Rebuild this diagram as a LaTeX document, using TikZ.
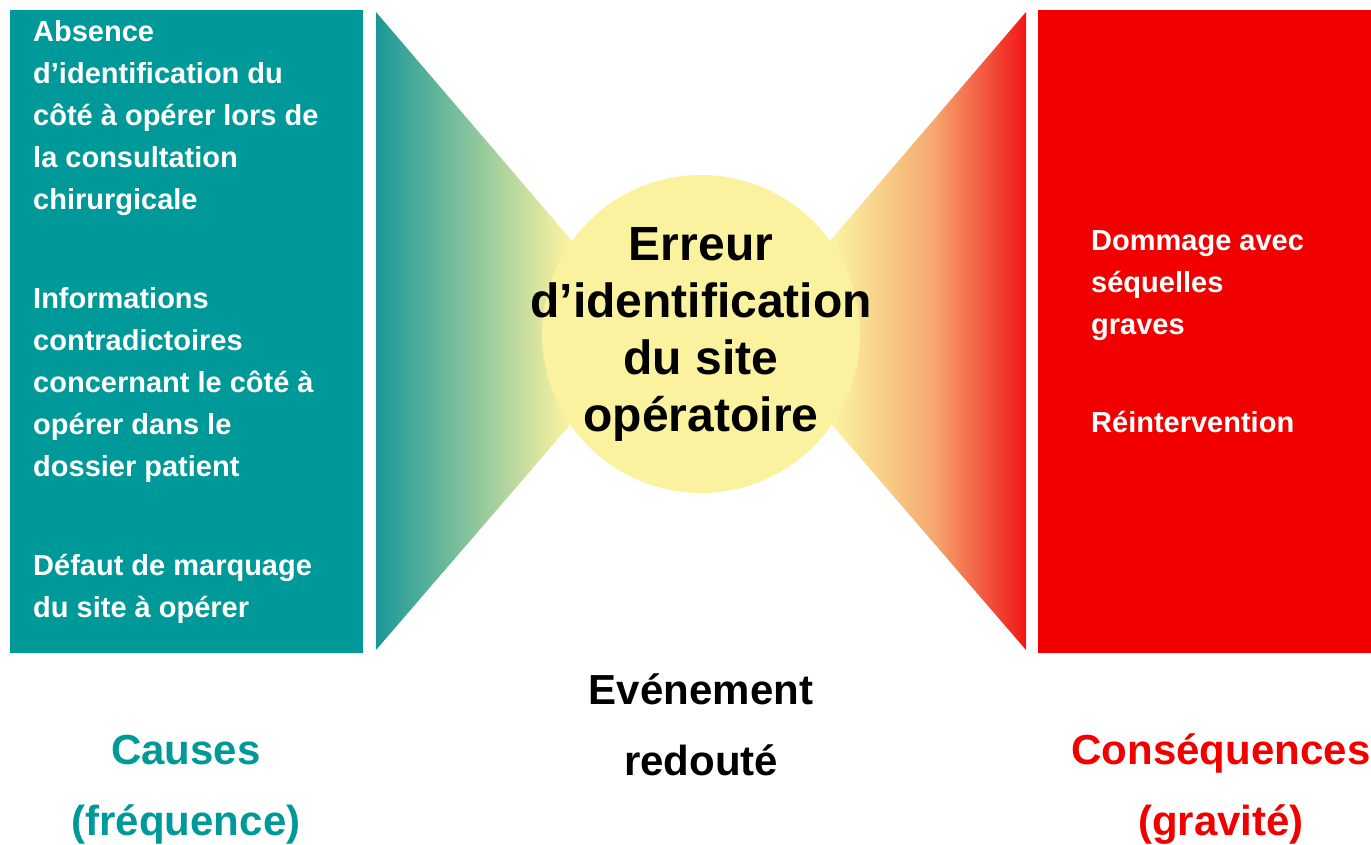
\documentclass[tikz,border=0pt]{standalone}
\usepackage{fontspec}
\setmainfont{Liberation Sans}
\usepackage{tikz}
\usetikzlibrary{positioning}
\definecolor{causeteal}{RGB}{0,153,153}
\definecolor{tealend}{RGB}{26,152,152}
\definecolor{consred}{RGB}{242,0,0}
\definecolor{redend}{RGB}{240,22,22}
\definecolor{consmid}{RGB}{246,168,112}
\definecolor{paleyellow}{RGB}{251,242,160}
\pgfdeclarehorizontalshading{causefade}{100bp}{color(0bp)=(tealend); color(25bp)=(tealend); color(60bp)=(paleyellow); color(100bp)=(paleyellow)}
\pgfdeclarehorizontalshading{consfade}{100bp}{color(0bp)=(paleyellow); color(40bp)=(paleyellow); color(58bp)=(consmid); color(75bp)=(redend); color(100bp)=(redend)}
\tikzset{
  causetext/.style={
    anchor=base west,
    inner sep=0pt,
    align=left,
    text=white,
    font=\bfseries\fontsize{29}{42}\selectfont,
  },
  conseqtext/.style={
    causetext
  },
  eventtext/.style={
    inner sep=0pt,
    align=center,
    font=\bfseries\fontsize{48}{57}\selectfont,
  },
  captiontext/.style={
    anchor=base,
    inner sep=0pt,
    align=center,
    font=\bfseries\fontsize{42}{71}\selectfont,
  }
}

\begin{document}
\begin{tikzpicture}[x=1pt,y=-1pt]
\useasboundingbox (0,0) rectangle (1371,844);

% Boxes and wedges
\fill[causeteal] (10,10) rectangle (363,653);
\shade[shading=causefade] (376,12) -- (650,332) -- (376,650) -- cycle;
\shade[shading=consfade] (752,332) -- (1026,12) -- (1026,650) -- cycle;
\fill[consred] (1038,10) rectangle (1371,653);

% Event
\node[circle, fill=paleyellow, minimum size=318pt, inner sep=0pt] (event) at (701,334) {};
\node[eventtext] (eventname) at (event.center) {Erreur\\d’identification\\du site\\opératoire};

% Causes (anchored on the last line)
\node[causetext] (cause1) at (33,209) {Absence\\d’identification du\\côté à opérer lors de\\la consultation\\chirurgicale};
\node[causetext] (cause2) at (33,476) {Informations\\contradictoires\\concernant le côté à\\opérer dans le\\dossier patient};
\node[causetext] (cause3) at (33,617) {Défaut de marquage\\du site à opérer};

% Consequences
\node[conseqtext] (conseq1) at (1091,334) {Dommage avec\\séquelles\\graves};
\node[conseqtext] (conseq2) at (1091,432) {Réintervention};

% Captions
\node[captiontext, text=causeteal] (causes) at (186,835) {Causes\\(fréquence)};
\node[captiontext] (feared) at (701,775) {Evénement\\redouté};
\node[captiontext, text=consred] (conseqs) at (1221,835) {Conséquences\\(gravité)};

\end{tikzpicture}
\end{document}
